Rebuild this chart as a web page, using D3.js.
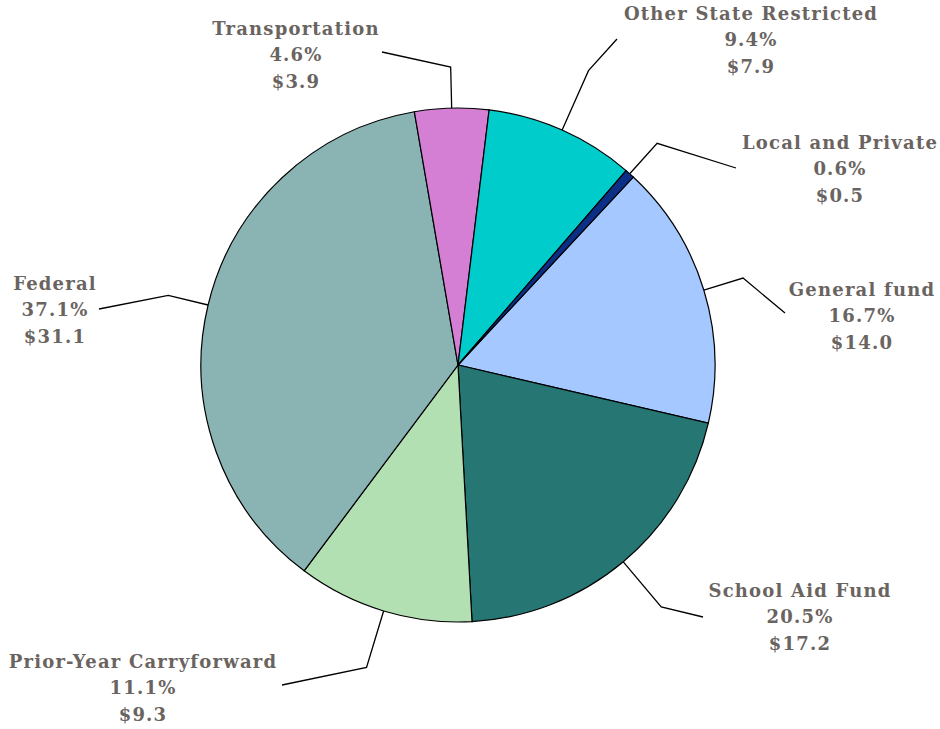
<!DOCTYPE html>
<html>
<head>
<meta charset="utf-8">
<script src="https://cdnjs.cloudflare.com/ajax/libs/d3/7.8.5/d3.min.js"></script>
<style>
  body { margin: 0; background: #fff; }
  text { font-family: "DejaVu Serif", Georgia, serif; font-weight: bold; fill: #6a6461; }
</style>
</head>
<body>
<div id="chart"></div>
<script>
// revenue sources, billions of dollars (clockwise from General fund)
var categories = ["General fund", "School Aid Fund", "Prior-Year Carryforward", "Federal",
                  "Transportation", "Other State Restricted", "Local and Private"]
var amounts = [14.0, 17.2, 9.3, 31.1, 3.9, 7.9, 0.5]
var colors = ["#a4c8ff", "#267674", "#b3e0b3", "#8ab4b3", "#d47fd4", "#00cccc", "#0b2f87"]

var width = 940, height = 729
var cx = 458, cy = 365, radius = 257

// label layout: label centre x, middle line y, leader end point, elbow radius
var labelLayout = [
  {x: 862, y: 316, ex: 785, ey: 313, r: 298},
  {x: 800, y: 617, ex: 703, ey: 617, r: 316},
  {x: 143, y: 688, ex: 282, ey: 685, r: 316},
  {x: 55,  y: 310, ex: 99,  ey: 309, r: 298},
  {x: 296, y: 55,  ex: 382, ey: 52,  r: 298},
  {x: 751, y: 40,  ex: 617, ey: 39,  r: 322},
  {x: 840, y: 169, ex: 736, ey: 168, r: 298}
]

var total = d3.sum(amounts)
var data = categories.map(function(c, i) { return {name: c, value: amounts[i], i: i} })

var svg = d3.select("#chart").append("svg")
    .attr("width", width)
    .attr("height", height)
var g = svg.append("g")
    .attr("transform", "translate(" + cx + "," + cy + ")")

var pie = d3.pie()
    .sort(null)
    .value(function(d) { return d.value })
    .startAngle(43 * Math.PI / 180)
    .endAngle(43 * Math.PI / 180 + 2 * Math.PI)

var arc = d3.arc().innerRadius(0).outerRadius(radius)
var arcs = pie(data)

g.selectAll("path.slice")
  .data(arcs)
  .enter().append("path")
    .attr("class", "slice")
    .attr("d", arc)
    .attr("fill", function(d) { return colors[d.data.i] })
    .attr("stroke", "#000")
    .attr("stroke-width", 1.2)

// leader lines: slice edge -> elbow -> near label
function polar(a, r) { return [Math.sin(a) * r, -Math.cos(a) * r] }

g.selectAll("polyline.leader")
  .data(arcs)
  .enter().append("polyline")
    .attr("class", "leader")
    .attr("fill", "none")
    .attr("stroke", "#000")
    .attr("stroke-width", 1.3)
    .attr("points", function(d) {
      var L = labelLayout[d.data.i]
      var mid = (d.startAngle + d.endAngle) / 2
      var p0 = polar(mid, radius), p1 = polar(mid, L.r)
      return [p0, p1, [L.ex - cx, L.ey - cy]].map(function(p) { return p.join(",") }).join(" ")
    })

// labels
var labels = svg.append("g")
  .selectAll("text")
  .data(data)
  .enter().append("text")
    .attr("text-anchor", "middle")
    .attr("font-size", 18)
    .attr("letter-spacing", 1.2)
    .attr("x", function(d) { return labelLayout[d.i].x })
    .attr("y", function(d) { return labelLayout[d.i].y })

labels.each(function(d) {
  var t = d3.select(this)
  var L = labelLayout[d.i]
  var lines = [d.name, (d.value / total * 100).toFixed(1) + "%", "$" + d.value.toFixed(1)]
  lines.forEach(function(s, k) {
    t.append("tspan")
      .attr("x", L.x)
      .attr("y", L.y + (k - 1) * 26.5)
      .attr("dy", "0.35em")
      .text(s)
  })
})
</script>
</body>
</html>
